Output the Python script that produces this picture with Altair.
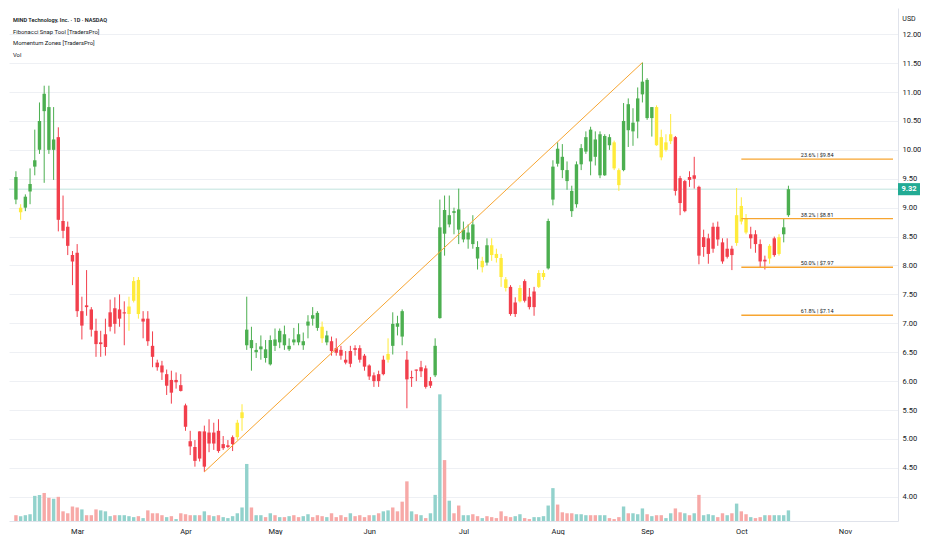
import altair as alt
import pandas as pd
import numpy as np

# ---------------- data (one entry per trading day) ----------------
body_top = [
    9.53, 9.00, 9.19, 9.41, 9.82, 10.50, 10.97, 10.74, 10.18, 10.22,
    8.77, 8.67, 8.18, 8.22, 7.21, 7.31, 7.24, 6.87, 6.67, 6.81,
    7.19, 7.26, 7.24, 7.19, 7.29, 7.73, 7.75, 7.08, 7.08, 6.61,
    6.32, 6.27, 6.12, 6.02, 6.02, 5.93, 5.58, 4.96, 4.86, 5.13,
    5.13, 5.11, 5.11, 5.14, 4.91, 4.89, 5.03, 5.28, 5.46, 6.89,
    6.71, 6.54, 6.60, 6.55, 6.71, 6.72, 6.87, 6.81, 6.61, 6.72,
    6.81, 6.69, 7.03, 7.14, 7.18, 6.94, 6.79, 6.69, 6.57, 6.54,
    6.37, 6.52, 6.57, 6.57, 6.44, 6.27, 6.10, 6.12, 6.37, 6.47,
    6.99, 7.00, 7.21, 6.37, 6.06, 6.20, 6.24, 6.22, 6.00, 6.61,
    8.66, 8.96, 8.87, 8.94, 8.97, 8.62, 8.57, 8.71, 8.32, 8.08,
    8.35, 8.35, 8.20, 8.13, 7.76, 7.63, 7.36, 7.61, 7.73, 7.46,
    7.55, 7.87, 7.87, 8.77, 9.71, 10.02, 9.88, 9.65, 9.29, 9.75,
    10.03, 10.22, 10.35, 10.18, 10.27, 10.24, 10.22, 10.13, 9.65, 10.50,
    10.79, 10.47, 10.89, 11.18, 11.21, 10.74, 10.74, 10.22, 10.13, 10.27,
    10.22, 9.51, 9.46, 9.53, 9.56, 9.36, 8.49, 8.47, 8.67, 8.67,
    8.40, 8.29, 8.29, 8.87, 9.03, 8.81, 8.54, 8.54, 8.37, 8.10,
    8.34, 8.47, 8.49, 8.66, 9.32,
]
body_bottom = [
    9.14, 8.92, 9.00, 9.28, 9.71, 10.00, 10.67, 10.00, 10.00, 8.79,
    8.60, 8.34, 8.07, 7.21, 6.96, 7.28, 6.89, 6.64, 6.64, 6.59,
    6.94, 6.99, 7.08, 7.17, 7.16, 7.39, 7.16, 7.03, 6.69, 6.42,
    6.24, 6.15, 5.92, 5.80, 5.98, 5.83, 5.21, 4.87, 4.62, 4.66,
    4.52, 4.92, 4.92, 4.79, 4.84, 4.86, 4.91, 5.03, 5.36, 6.62,
    6.57, 6.50, 6.55, 6.40, 6.29, 6.61, 6.67, 6.62, 6.55, 6.67,
    6.67, 6.62, 6.96, 7.08, 6.92, 6.74, 6.67, 6.52, 6.49, 6.44,
    6.32, 6.30, 6.54, 6.37, 6.25, 6.08, 6.00, 6.00, 6.12, 6.37,
    6.61, 6.94, 6.77, 6.03, 6.05, 6.18, 6.17, 5.90, 5.92, 6.10,
    7.09, 8.55, 8.71, 8.91, 8.62, 8.45, 8.45, 8.37, 8.12, 7.97,
    8.05, 8.18, 8.13, 7.80, 7.61, 7.16, 7.16, 7.38, 7.39, 7.28,
    7.28, 7.63, 7.80, 7.95, 9.14, 9.76, 9.65, 9.46, 8.94, 9.06,
    9.75, 9.97, 9.80, 9.88, 9.56, 9.56, 10.08, 9.68, 9.39, 9.65,
    10.34, 10.32, 10.49, 10.96, 10.55, 10.55, 10.08, 9.87, 10.00, 10.15,
    9.29, 9.08, 8.94, 9.48, 9.50, 8.17, 8.32, 8.20, 8.29, 8.45,
    8.07, 8.15, 8.18, 8.39, 8.76, 8.57, 8.47, 8.37, 8.07, 8.07,
    8.12, 8.18, 8.20, 8.54, 8.87,
]
highs = [
    9.63, 9.06, 9.23, 9.68, 10.35, 10.82, 11.11, 11.11, 10.74, 10.39,
    9.21, 8.76, 8.25, 8.37, 7.46, 7.92, 7.28, 7.08, 6.87, 7.08,
    7.41, 7.45, 7.50, 7.38, 7.46, 7.80, 7.80, 7.21, 7.21, 6.86,
    6.37, 6.35, 6.20, 6.18, 6.15, 6.12, 5.61, 5.14, 4.98, 5.13,
    5.23, 5.34, 5.28, 5.34, 5.05, 4.98, 5.06, 5.33, 5.60, 7.46,
    6.94, 6.66, 6.79, 6.71, 6.79, 6.91, 6.91, 6.96, 6.74, 6.92,
    7.00, 6.84, 7.14, 7.28, 7.21, 7.03, 6.87, 6.77, 6.74, 6.61,
    6.52, 6.61, 6.62, 6.62, 6.47, 6.29, 6.15, 6.18, 6.44, 6.74,
    7.19, 7.13, 7.24, 6.52, 6.18, 6.20, 6.35, 6.27, 6.07, 6.74,
    9.14, 9.21, 9.21, 9.00, 9.33, 8.76, 8.71, 8.87, 8.42, 8.15,
    8.47, 8.47, 8.29, 8.20, 7.80, 7.66, 7.45, 7.66, 7.76, 7.61,
    7.63, 7.92, 7.92, 8.81, 9.82, 10.13, 10.10, 9.80, 9.38, 9.80,
    10.10, 10.32, 10.40, 10.32, 10.32, 10.27, 10.27, 10.16, 9.68, 10.81,
    10.89, 10.72, 11.08, 11.51, 11.24, 10.74, 10.77, 10.35, 10.27, 10.62,
    10.24, 9.55, 9.48, 9.63, 9.88, 9.38, 8.62, 8.55, 8.74, 8.76,
    8.47, 8.47, 8.34, 9.34, 9.18, 8.89, 8.67, 8.61, 8.45, 8.17,
    8.37, 8.50, 8.54, 8.82, 9.38,
]
lows = [
    9.06, 8.79, 8.94, 9.06, 9.56, 9.93, 9.43, 9.93, 9.48, 8.59,
    8.47, 8.18, 7.66, 7.11, 6.72, 7.13, 6.77, 6.42, 6.42, 6.44,
    6.86, 6.82, 6.94, 6.62, 6.87, 7.36, 7.08, 6.74, 6.61, 6.24,
    6.18, 6.02, 5.76, 5.61, 5.87, 5.82, 5.14, 4.72, 4.52, 4.61,
    4.43, 4.77, 4.81, 4.76, 4.81, 4.84, 4.79, 4.98, 5.14, 6.54,
    6.18, 6.40, 6.37, 6.32, 6.27, 6.52, 6.57, 6.54, 6.52, 6.62,
    6.62, 6.54, 6.74, 6.96, 6.87, 6.66, 6.62, 6.44, 6.44, 6.37,
    6.29, 6.24, 6.44, 6.32, 6.18, 6.02, 5.90, 5.90, 6.10, 6.32,
    6.46, 6.79, 6.62, 5.53, 5.90, 6.00, 6.07, 5.87, 5.88, 6.07,
    7.08, 8.17, 8.66, 8.54, 8.37, 8.40, 8.29, 8.29, 7.93, 7.88,
    8.00, 8.08, 8.05, 7.63, 7.55, 7.13, 7.11, 7.36, 7.36, 7.24,
    7.13, 7.61, 7.75, 7.93, 9.04, 9.71, 9.51, 9.31, 8.84, 9.00,
    9.65, 9.93, 9.56, 9.73, 9.51, 9.55, 10.00, 9.65, 9.29, 9.63,
    10.05, 10.07, 10.20, 10.82, 10.52, 10.23, 10.07, 9.82, 9.97, 10.10,
    9.21, 8.87, 8.92, 9.36, 9.33, 8.02, 8.15, 8.03, 8.22, 8.34,
    8.03, 8.12, 7.92, 8.34, 8.71, 8.54, 8.29, 8.22, 7.97, 7.93,
    8.03, 8.15, 8.17, 8.40, 8.84,
]
# momentum zone of each candle: G = bullish, Y = neutral, R = bearish
zones = list(
    "GYGGGGGGGR" "RRRRRRRRRR" "RRRRYYYRRR" "RRRRRRRRRR" "RRRRRRRYYG"
    "GGGGGGGGGG" "GGGGGYGRRR" "RRRRRRRRRY" "GGGRRRRRRG" "GGGGGGGGGY"
    "GYYYYRRYRR" "RYYGGGGGGG" "GGGGGGGYYG" "GGGGGGYYYY" "RRRRRRRRRR"
    "RRRYYYRRRR" "YRYGG"
)
# 1 = close above open (teal volume bar), 0 = close below open (red volume bar)
vol_up = [
    0, 1, 1, 1, 1, 1, 0, 0, 1, 0,
    0, 0, 0, 0, 1, 0, 0, 0, 1, 1,
    1, 0, 1, 1, 1, 1, 0, 1, 0, 0,
    0, 0, 1, 0, 1, 0, 0, 0, 1, 0,
    1, 0, 1, 0, 1, 1, 1, 1, 1, 1,
    0, 1, 1, 0, 1, 0, 1, 0, 1, 0,
    0, 1, 1, 0, 0, 0, 1, 0, 0, 0,
    0, 1, 0, 0, 0, 0, 1, 0, 1, 1,
    0, 0, 0, 0, 1, 0, 1, 0, 1, 1,
    1, 0, 1, 0, 0, 1, 1, 0, 0, 1,
    0, 0, 0, 0, 0, 0, 1, 1, 0, 0,
    1, 1, 1, 1, 1, 0, 0, 0, 0, 1,
    1, 1, 0, 0, 1, 1, 0, 0, 0, 1,
    0, 1, 1, 1, 0, 1, 0, 0, 1, 1,
    0, 0, 1, 0, 1, 0, 1, 1, 1, 0,
    0, 1, 0, 1, 0, 0, 1, 0, 0, 1,
    0, 1, 1, 1, 1,
]
# volume, thousands of shares
volumes = [
    60, 50, 60, 70, 260, 270, 290, 240, 230, 250,
    100, 80, 150, 140, 120, 60, 60, 120, 110, 100,
    50, 60, 60, 60, 50, 40, 50, 30, 110, 80,
    80, 60, 40, 50, 20, 80, 70, 60, 60, 60,
    100, 60, 50, 60, 40, 30, 50, 80, 140, 590,
    140, 60, 60, 40, 80, 60, 40, 40, 50, 60,
    40, 50, 70, 40, 60, 50, 40, 80, 40, 60,
    40, 80, 50, 60, 40, 60, 60, 80, 100, 110,
    140, 100, 200, 410, 100, 70, 60, 30, 80, 270,
    1310, 630, 210, 80, 160, 60, 60, 70, 50, 30,
    50, 40, 30, 100, 50, 40, 50, 70, 30, 20,
    40, 40, 50, 160, 340, 170, 90, 80, 80, 70,
    70, 60, 60, 60, 60, 60, 30, 20, 40, 150,
    80, 80, 70, 130, 70, 50, 60, 60, 30, 80,
    130, 90, 80, 60, 80, 270, 60, 70, 60, 40,
    80, 60, 80, 180, 100, 70, 40, 30, 40, 60,
    60, 60, 60, 60, 110,
]

month_names = ["Mar", "Apr", "May", "Jun", "Jul", "Aug", "Sep", "Oct", "Nov"]
month_start_bar = [13, 36, 55, 75, 95, 115, 134, 154, 176]
price_ticks = [4.0, 4.5, 5.0, 5.5, 6.0, 6.5, 7.0, 7.5, 8.0, 8.5,
               9.0, 9.5, 10.0, 10.5, 11.0, 11.5, 12.0]

fib_ratios = ["23.6%", "38.2%", "50.0%", "61.8%"]
fib_prices = [9.84, 8.81, 7.97, 7.14]
fib_start_bar = 154
swing_low_bar, swing_high_bar = 40, 133

header_lines = ["MIND Technology, Inc. · 1D · NASDAQ",
                "Fibonacci Snap Tool [TradersPro]",
                "Momentum Zones [TradersPro]",
                "Vol"]

# ---------------- frames ----------------
n = len(highs)
opens = [b if u else t for t, b, u in zip(body_top, body_bottom, vol_up)]
closes = [t if u else b for t, b, u in zip(body_top, body_bottom, vol_up)]
df = pd.DataFrame({
    "bar": list(range(n)), "open": opens, "high": highs, "low": lows,
    "close": closes, "zone": zones, "volume": volumes,
    "dir": ["up" if u else "down" for u in vol_up],
})
df["body_lo"] = df[["open", "close"]].min(axis=1)
df["body_hi"] = np.maximum(df[["open", "close"]].max(axis=1), df["body_lo"] + 0.02)

W, H = 889, 513
X_MIN, X_MAX = -0.41, 186.2
x_scale = alt.Scale(domain=[X_MIN, X_MAX], nice=False, zero=False)
price_scale = alt.Scale(domain=[3.58, 12.454], nice=False, zero=False)

label_expr = " : ".join(f"datum.value == {b} ? '{m}'" for b, m in zip(month_start_bar, month_names)) + " : ''"
x_axis = alt.Axis(values=month_start_bar, labelExpr=label_expr, grid=False, ticks=False,
                  domainColor="#e0e3eb", labelFontSize=7.5, labelColor="#131722",
                  labelFont="Roboto", labelPadding=6, title="", labelFlush=False,
                  labelOverlap=False)
price_axis = alt.Axis(orient="right", values=price_ticks, format=".2f", grid=True,
                      gridColor="#eef0f4", ticks=False, domainColor="#e0e3eb",
                      labelFontSize=7.5, labelColor="#131722", labelFont="Roboto",
                      labelPadding=4, labelAlign="left", title="", labelFlush=False)

X = alt.X("bar:Q", scale=x_scale, axis=x_axis)
zone_color = alt.Color("zone:N", scale=alt.Scale(domain=["G", "Y", "R"],
                       range=["#4caf50", "#ffeb3b", "#f23f4c"]), legend=None)

volume = alt.Chart(df).mark_bar(size=3.4, orient="vertical").encode(
    x=X,
    y=alt.Y("volume:Q", scale=alt.Scale(domain=[0, max(volumes) * 4.05], nice=False), axis=None),
    y2=alt.datum(0),
    color=alt.Color("dir:N", scale=alt.Scale(domain=["up", "down"], range=["#92d2cc", "#f7a9a7"]), legend=None),
)

last = pd.DataFrame({"price": [closes[-1]], "label": [f"{closes[-1]:.2f}"]})
price_line = alt.Chart(last).mark_rule(color="#bfe3dd", strokeWidth=1).encode(
    y=alt.Y("price:Q", scale=price_scale, axis=price_axis), x=alt.value(0), x2=alt.value(W))

wicks = alt.Chart(df).mark_rule(strokeWidth=1).encode(
    x=X, y=alt.Y("low:Q", scale=price_scale, axis=price_axis), y2="high:Q", color=zone_color)
bodies = alt.Chart(df).mark_bar(size=3.4).encode(
    x=X, y=alt.Y("body_lo:Q", scale=price_scale, axis=price_axis), y2="body_hi:Q", color=zone_color)

trend_df = pd.DataFrame({"bar": [swing_low_bar, swing_high_bar],
                         "price": [lows[swing_low_bar], highs[swing_high_bar]]})
trend = alt.Chart(trend_df).mark_line(color="#f7a531", strokeWidth=1).encode(
    x=X, y=alt.Y("price:Q", scale=price_scale, axis=price_axis))

fib_df = pd.DataFrame({"price": fib_prices, "ratio": fib_ratios})
fib_df["start"] = fib_start_bar
fib_df["end"] = X_MAX
fib_df["mid"] = (fib_df["start"] + fib_df["end"]) / 2
fib_df["label"] = [f"{r} | ${p:.2f}" for r, p in zip(fib_ratios, fib_prices)]
fib_lines = alt.Chart(fib_df).mark_rule(color="#f7a531", strokeWidth=1.4).encode(
    x=alt.X("start:Q", scale=x_scale, axis=x_axis), x2="end:Q",
    y=alt.Y("price:Q", scale=price_scale, axis=price_axis))
fib_text = alt.Chart(fib_df).mark_text(fontSize=5.5, font="Roboto", color="#131722",
                                       baseline="bottom", dy=-1).encode(
    x=alt.X("mid:Q", scale=x_scale, axis=x_axis),
    y=alt.Y("price:Q", scale=price_scale, axis=price_axis), text="label:N")

price_box = alt.Chart(last).mark_point(shape="M-1,-0.55L1,-0.55L1,0.55L-1,0.55Z", size=484,
                                       filled=True, opacity=1, color="#22ab94").encode(
    x=alt.value(W + 11), y=alt.Y("price:Q", scale=price_scale, axis=price_axis))
price_text = alt.Chart(last).mark_text(fontSize=7.5, font="Roboto", fontWeight="bold",
                                       color="white").encode(
    x=alt.value(W + 11), y=alt.Y("price:Q", scale=price_scale, axis=price_axis), text="label:N")

price_layers = alt.layer(price_line, wicks, bodies, trend, fib_lines, fib_text, price_box, price_text)

usd = alt.Chart(pd.DataFrame({"t": ["USD"]})).mark_text(
    fontSize=7, font="Roboto", color="#131722").encode(
    x=alt.value(W + 11), y=alt.value(11), text="t:N")

header_layers = []
for k, line in enumerate(header_lines):
    header_layers.append(
        alt.Chart(pd.DataFrame({"t": [line]})).mark_text(
            fontSize=5.6 if k == 0 else 5.9, font="Roboto", color="#131722", align="left",
            baseline="middle", fontWeight=600 if k == 0 else 400).encode(
            x=alt.value(4), y=alt.value(12 + 11.5 * k), text="t:N"))

chart = alt.layer(volume, price_layers, usd, *header_layers).resolve_scale(
    y="independent", color="independent"
).properties(width=W, height=H, padding=0, background="white").configure_view(
    stroke="transparent")

chart.save("out.html", embed_options={"renderer": "svg", "actions": False})
